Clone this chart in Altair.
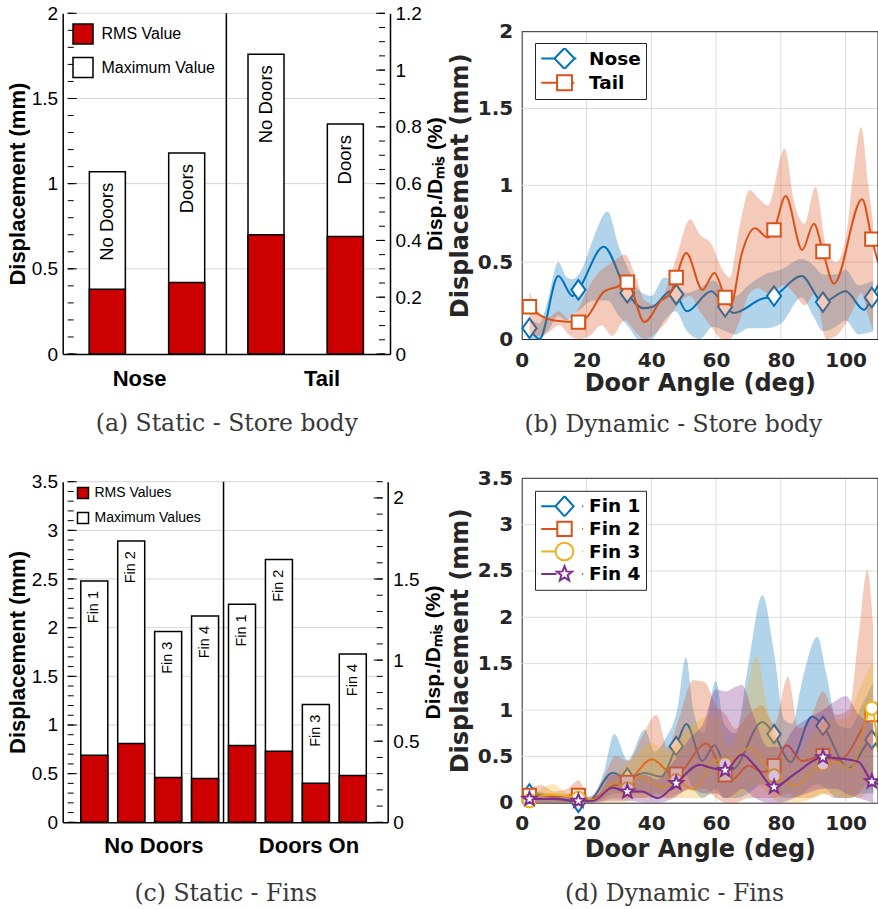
import math
import altair as alt
import pandas as pd

W, H = 878, 909
SANS = "Liberation Sans"
DV = "DejaVu Sans"
SERIF = "DejaVu Serif"
CAPC = "#383838"
AXC = "#262626"
GRID_A = "#d6d6d6"
GRID_B = "#dcdcdc"
RED = "#cc0000"
BLUE, ORANGE, YELLOW, PURPLE = "#0072BD", "#D95319", "#EDB120", "#7E2F8E"

# ---------------- (a) Static - Store body ----------------
A_GROUPS = ["Nose", "Tail"]
A_GROUP_POS = [1.4, 3.7]
A_CASES = ["No Doors", "Doors", "No Doors", "Doors"]
A_RMS = [0.38, 0.42, 0.70, 0.69]
A_MAX = [1.07, 1.18, 1.76, 1.35]
A_LEGEND = ["RMS Value", "Maximum Value"]
A_YTICKS = [0, 0.5, 1, 1.5, 2]
A_RTICKS = [0, 0.2, 0.4, 0.6, 0.8, 1, 1.2]

# ---------------- (c) Static - Fins ----------------
C_GROUPS = ["No Doors", "Doors On"]
C_GROUP_POS = [2.6, 6.8]
C_CASES = ["Fin 1", "Fin 2", "Fin 3", "Fin 4", "Fin 1", "Fin 2", "Fin 3", "Fin 4"]
C_RMS = [0.69, 0.81, 0.46, 0.45, 0.79, 0.73, 0.40, 0.48]
C_MAX = [2.48, 2.89, 1.96, 2.12, 2.24, 2.70, 1.21, 1.73]
C_LEGEND = ["RMS Values", "Maximum Values"]
C_YTICKS = [0, 0.5, 1, 1.5, 2, 2.5, 3, 3.5]
C_RTICKS = [0, 0.5, 1, 1.5, 2]

# ---------------- (b) Dynamic - Store body ----------------
DYN_XTICKS = [0, 20, 40, 60, 80, 100]
MARK_X = [2.4, 17.5, 32.6, 47.7, 62.8, 77.9, 93.0, 108.1]

NOSE_LINE_X = [2.4, 5.5, 11.3, 15.7, 17.5, 25.3, 32.6, 37.5, 40.5, 46.0, 47.7, 51.0, 58.5, 62.8, 65.5,
               74.0, 77.9, 86.4, 93.0, 100.0, 105.7, 108.1, 110.0]
NOSE_LINE_Y = [0.07, 0.0, 0.41, 0.28, 0.32, 0.60, 0.30, 0.20, 0.21, 0.31, 0.29, 0.18, 0.31, 0.21, 0.17,
               0.26, 0.28, 0.41, 0.24, 0.31, 0.19, 0.27, 0.35]
NOSE_MARK_Y = [0.07, 0.32, 0.30, 0.29, 0.21, 0.28, 0.24, 0.27]
NOSE_BAND_X = [2.4, 5.5, 8, 11.3, 14, 15.7, 18.5, 22, 26.5, 30, 33, 36, 40, 44, 47.5, 51, 55, 59, 63, 66,
               70, 75, 80, 86.4, 90, 93, 97, 100, 104, 108.5]
NOSE_BAND_LO = [0.0, 0.0, 0.05, 0.15, 0.12, 0.15, 0.20, 0.25, 0.25, 0.15, 0.08, 0.0, 0.0, 0.12, 0.18, 0.05,
                0.0, 0.08, 0.05, 0.03, 0.07, 0.07, 0.10, 0.27, 0.15, 0.05, 0.08, 0.12, 0.03, 0.05]
NOSE_BAND_HI = [0.14, 0.10, 0.25, 0.50, 0.40, 0.39, 0.45, 0.65, 0.83, 0.60, 0.45, 0.32, 0.28, 0.40, 0.36,
                0.30, 0.33, 0.38, 0.30, 0.28, 0.35, 0.42, 0.45, 0.52, 0.48, 0.42, 0.42, 0.45, 0.35, 0.38]

TAIL_LINE_X = [2.4, 6.0, 10.0, 17.5, 20.0, 25.5, 29.5, 32.6, 37.9, 43.0, 46.0, 47.7, 50.8, 55.8, 59.5, 62.8,
               64.5, 68.0, 72.0, 76.0, 77.9, 81.5, 86.6, 90.2, 93.0, 96.4, 105.1, 108.1, 110.0]
TAIL_LINE_Y = [0.21, 0.15, 0.12, 0.11, 0.14, 0.31, 0.34, 0.37, 0.11, 0.25, 0.30, 0.40, 0.56, 0.32, 0.43, 0.27,
               0.22, 0.56, 0.72, 0.66, 0.71, 0.93, 0.58, 0.75, 0.57, 0.36, 0.91, 0.65, 0.50]
TAIL_MARK_Y = [0.21, 0.11, 0.37, 0.40, 0.27, 0.71, 0.57, 0.65]
TAIL_BAND_X = [2.4, 5, 8, 11.5, 15, 17.5, 21, 24.6, 28, 31.8, 35, 38, 42, 45, 48, 52, 55, 58.5, 62, 64.2,
               67, 70.4, 73, 76, 81.2, 84, 87.3, 90.7, 94, 97, 100, 102.5, 104.8, 107, 108.5]
TAIL_BAND_LO = [0.03, 0.02, 0.04, 0.09, 0.02, 0.0, 0.02, 0.09, 0.02, 0.12, 0.05, 0.0, 0.05, 0.12, 0.22, 0.28,
                0.18, 0.08, 0.0, 0.0, 0.10, 0.30, 0.33, 0.30, 0.35, 0.30, 0.22, 0.30, 0.0, 0.02, 0.10, 0.20,
                0.30, 0.15, 0.05]
TAIL_BAND_HI = [0.31, 0.18, 0.14, 0.18, 0.12, 0.20, 0.35, 0.45, 0.50, 0.55, 0.42, 0.25, 0.22, 0.35, 0.55, 0.78,
                0.68, 0.62, 0.45, 0.40, 0.70, 0.97, 0.92, 0.87, 1.24, 0.90, 0.75, 0.99, 0.60, 0.50, 0.65, 1.10,
                1.38, 1.00, 0.75]

# ---------------- (d) Dynamic - Fins ----------------
F1_LINE_X = [2.4, 10, 17.5, 21, 28, 32.6, 38, 43, 47.7, 50.8, 55.8, 59.5, 62.8, 65, 74.3, 77.9, 83, 89.7,
             93.0, 101, 108.1, 110]
F1_LINE_Y = [0.10, 0.06, 0.0, 0.02, 0.32, 0.27, 0.32, 0.28, 0.61, 0.85, 0.45, 0.62, 0.40, 0.36, 0.87, 0.74,
             0.44, 0.93, 0.83, 0.37, 0.68, 0.60]
F1_MARK_Y = [0.10, 0.0, 0.27, 0.61, 0.40, 0.74, 0.83, 0.68]
F1_BAND_X = [2.4, 8, 17.5, 22, 25.5, 28.6, 32.7, 38, 41, 44.5, 48, 50.7, 53, 56, 59.9, 62.5, 66, 70, 74.3,
             78, 81, 83.5, 86.5, 91.3, 94, 97.5, 101, 105, 108.5]
F1_BAND_LO = [0.0, 0.0, 0.0, 0.0, 0.05, 0.10, 0.10, 0.10, 0.05, 0.10, 0.20, 0.30, 0.15, 0.05, 0.15, 0.05,
              0.05, 0.10, 0.20, 0.15, 0.05, 0.05, 0.10, 0.20, 0.15, 0.05, 0.05, 0.10, 0.10]
F1_BAND_HI = [0.14, 0.10, 0.05, 0.08, 0.35, 0.74, 0.46, 0.79, 0.55, 0.70, 1.00, 1.57, 1.00, 0.75, 1.31, 0.85,
              0.75, 1.50, 2.24, 1.60, 0.90, 0.85, 1.30, 1.79, 1.40, 0.85, 0.80, 1.05, 1.30]

F2_LINE_X = [2.4, 10, 17.5, 21, 28, 32.6, 40.2, 46, 47.7, 57, 61, 62.8, 64.5, 70, 74.5, 77.9, 81.8, 86.6,
             93.0, 98, 108.1, 110]
F2_LINE_Y = [0.08, 0.07, 0.08, 0.03, 0.18, 0.22, 0.47, 0.32, 0.31, 0.64, 0.40, 0.30, 0.24, 0.40, 0.33, 0.40,
             0.62, 0.45, 0.51, 0.46, 0.95, 1.00]
F2_MARK_Y = [0.08, 0.08, 0.22, 0.31, 0.30, 0.40, 0.51, 0.95]
F2_BAND_X = [2.4, 6, 10, 14, 17.5, 21, 25, 29, 33, 37, 41.6, 45, 48.5, 52.9, 56.5, 60, 63, 66, 70, 74, 78,
             82.2, 85.5, 89, 93, 97, 101, 104, 106.7, 108.5]
F2_BAND_LO = [0.0, 0.0, 0.0, 0.0, 0.0, 0.0, 0.02, 0.05, 0.05, 0.05, 0.10, 0.05, 0.10, 0.15, 0.15, 0.05, 0.0,
              0.0, 0.05, 0.05, 0.05, 0.10, 0.05, 0.05, 0.10, 0.05, 0.05, 0.10, 0.20, 0.10]
F2_BAND_HI = [0.15, 0.19, 0.12, 0.15, 0.24, 0.06, 0.25, 0.50, 0.45, 0.70, 0.95, 0.60, 0.90, 1.32, 1.30, 1.05,
              0.95, 0.80, 0.95, 1.05, 0.85, 1.36, 0.80, 0.90, 1.20, 0.95, 1.00, 1.80, 2.51, 1.90]

F3_LINE_X = [2.4, 9, 17.5, 22.4, 28.6, 32.6, 36, 43.5, 47.7, 52.9, 59.9, 62.8, 70.2, 77.9, 84.6, 93.0, 97.5,
             101.5, 108.1, 110]
F3_LINE_Y = [0.02, 0.09, 0.05, 0.03, 0.22, 0.15, 0.28, 0.17, 0.24, 0.14, 0.46, 0.42, 0.59, 0.29, 0.19, 0.42,
             0.43, 0.36, 1.02, 0.55]
F3_MARK_Y = [0.02, 0.05, 0.15, 0.24, 0.42, 0.29, 0.42, 1.02]
F3_BAND_X = [2.4, 6, 9.7, 14, 17.5, 22, 27, 31, 35, 40, 45, 50, 55, 60, 64, 68, 72.5, 76, 80, 85, 90, 95,
             100, 104, 108.5]
F3_BAND_LO = [0.0, 0.0, 0.0, 0.0, 0.0, 0.0, 0.0, 0.0, 0.05, 0.05, 0.05, 0.05, 0.05, 0.10, 0.05, 0.10, 0.20,
              0.10, 0.0, 0.0, 0.05, 0.10, 0.05, 0.05, 0.20]
F3_BAND_HI = [0.06, 0.15, 0.20, 0.10, 0.06, 0.04, 0.25, 0.35, 0.50, 0.65, 0.55, 0.75, 0.90, 0.95, 0.60, 0.95,
              1.58, 1.00, 0.60, 0.50, 0.75, 0.90, 0.90, 1.20, 1.55]

F4_LINE_X = [2.4, 10, 17.5, 22, 28, 32.6, 37, 42, 47.7, 55, 58, 62.8, 68, 72.2, 77.9, 84.6, 93.0, 97.5, 104,
             108.1, 110]
F4_LINE_Y = [0.04, 0.04, 0.02, 0.02, 0.16, 0.12, 0.12, 0.05, 0.21, 0.41, 0.38, 0.35, 0.52, 0.39, 0.17, 0.32,
             0.49, 0.48, 0.44, 0.23, 0.20]
F4_MARK_Y = [0.04, 0.02, 0.12, 0.21, 0.35, 0.17, 0.49, 0.23]
F4_BAND_X = [2.4, 10, 17.5, 22, 28, 33, 38, 42, 47, 52, 56, 60, 63, 66, 68, 72, 76, 80, 84, 88, 93, 97, 100,
             104, 108.5]
F4_BAND_LO = [0.0, 0.0, 0.0, 0.0, 0.02, 0.02, 0.0, 0.0, 0.05, 0.15, 0.10, 0.10, 0.05, 0.10, 0.15, 0.05, 0.0,
              0.0, 0.05, 0.10, 0.15, 0.15, 0.10, 0.05, 0.0]
F4_BAND_HI = [0.07, 0.07, 0.05, 0.03, 0.30, 0.30, 0.30, 0.25, 0.45, 0.70, 0.85, 1.22, 1.20, 1.25, 1.27, 0.90,
              0.60, 0.60, 0.80, 0.90, 1.00, 1.10, 1.15, 0.95, 0.85]


# ---------------- marker shapes ----------------
def star_pts(r, cx=0.0, ratio=0.42):
    pts = []
    for k in range(10):
        a = -math.pi / 2 + k * math.pi / 5
        rr = r if k % 2 == 0 else r * ratio
        pts.append(f"{cx + rr * math.cos(a):.3f},{rr * math.sin(a):.3f}")
    return "M" + "L".join(pts) + "Z"


DIAMOND = "M0,-1L0.72,0L0,1L-0.72,0Z"
STAR = star_pts(1.0)


def lg_diamond(hw, hh, stub=0.0, dot=False):
    p = f"M-1,0H{-hw}M0,{-hh}L{hw},0L0,{hh}L{-hw},0Z"
    if stub:
        p += f"M{hw},0H{hw + stub}"
    if dot:
        p += "M0.76,0H0.8"
    return p


def lg_square(h, stub=0.0, dot=False):
    p = f"M-1,0H{-h}M{-h},{-h}H{h}V{h}H{-h}Z"
    if stub:
        p += f"M{h},0H{h + stub}"
    if dot:
        p += "M0.76,0H0.8"
    return p


def lg_circle(r, dot=False):
    p = f"M-1,0H{-r}M{r},0A{r},{r} 0 1,1 {-r},0A{r},{r} 0 1,1 {r},0Z"
    if dot:
        p += "M0.76,0H0.8"
    return p


def lg_star(r, dot=False):
    p = f"M-1,0H{-r}" + star_pts(r)
    if dot:
        p += "M0.76,0H0.8"
    return p


# ---------------- static (bar) panels ----------------
def static_panel(P):
    n = len(P["cases"])
    df = pd.DataFrame({"pos": list(range(1, n + 1)), "case": P["cases"], "rms": P["rms"], "mx": P["max"]})
    x0, x1 = P["xdom"]
    y0, y1 = P["ydom"]
    sx = alt.Scale(domain=P["xdom"], range=P["xr"], nice=False, zero=False)
    sy = alt.Scale(domain=P["ydom"], range=P["yr"], nice=False, zero=False)
    sr = alt.Scale(domain=P["rdom"], range=P["yr"], nice=False, zero=False)
    g0, g1 = P["groups"]
    xaxis = alt.Axis(orient="bottom", offset=P["yr"][0] - H, values=P["group_pos"],
                     labelExpr=f"datum.value < {P['divider']} ? '{g0}' : '{g1}'",
                     tickSize=0, labelPadding=P["xlab_pad"], labelBaseline="alphabetic",
                     labelFont=SANS, labelFontSize=22, labelFontWeight="bold", labelColor="black",
                     labelFlush=False, labelOverlap=False, domainColor="black", domainWidth=1.5,
                     grid=False, title=P["caption"], titleFont=SERIF, titleFontSize=23.5,
                     titleFontWeight="normal", titleColor=CAPC, titleY=P["cap_y"],
                     titleBaseline="alphabetic")
    yaxis = alt.Axis(orient="left", offset=-P["xr"][0], values=P["yticks"], format="~g", tickSize=0,
                     labelPadding=5, labelFont=SANS, labelFontSize=19, labelColor="black",
                     labelFlush=False, labelOverlap=False, domainColor="black", domainWidth=1.5,
                     grid=False, title="Displacement (mm)", titleFont=SANS, titleFontSize=22,
                     titleFontWeight="bold", titleColor="black", titlePadding=2)
    raxis = alt.Axis(orient="right", offset=P["xr"][1] - W, values=P["rticks"], format="~g", tickSize=0,
                     labelPadding=5, labelFont=SANS, labelFontSize=19, labelColor="black",
                     labelFlush=False, labelOverlap=False, domainColor="black", domainWidth=1.5,
                     grid=False, title="Disp./D\u2098\u1d62\u209b (%)", titleFont=SANS, titleFontSize=21,
                     titleFontWeight="bold", titleColor="black", titleAngle=270, titleBaseline="top",
                     titlePadding=3)
    fscale = alt.Scale(domain=P["legend"], range=[RED, "#ffffff"])
    leg = alt.Legend(orient="none", legendX=P["leg_x"], legendY=P["leg_y"], title=None,
                     symbolType="square", symbolSize=P["leg_sym"] ** 2, symbolStrokeColor="black",
                     symbolStrokeWidth=1.5, symbolOpacity=1, labelFont=SANS, labelFontSize=P["leg_font"],
                     labelColor="black", labelOffset=P["leg_off"], rowPadding=P["leg_row"], padding=0)

    def X(field=None, datum=None):
        if datum is not None:
            return alt.X(datum=datum, scale=sx, axis=xaxis)
        return alt.X(field, scale=sx, axis=xaxis)

    def Y(field=None, datum=None):
        if datum is not None:
            return alt.Y(datum=datum, scale=sy, axis=yaxis)
        return alt.Y(field, scale=sy, axis=yaxis)

    def R(field):
        return alt.Y(field, scale=sr, axis=raxis)

    grid = alt.Chart(pd.DataFrame({"v": P["yticks"][1:]})).mark_rule(color=GRID_A, strokeWidth=1).encode(
        y=Y("v:Q"), x=X(datum=x0), x2=alt.datum(x1))
    minor_l = alt.Chart(pd.DataFrame({"v": P["yminor"]})).mark_rule(
        color="black", strokeWidth=1, x2Offset=6).encode(y=Y("v:Q"), x=X(datum=x0), x2=alt.datum(x0))
    major_l = alt.Chart(pd.DataFrame({"v": P["yticks"]})).mark_rule(
        color="black", strokeWidth=1, x2Offset=9).encode(y=Y("v:Q"), x=X(datum=x0), x2=alt.datum(x0))
    maxbars = alt.Chart(df).transform_calculate(kind=f"'{P['legend'][1]}'").mark_bar(
        size=P["bar_px"], stroke="black", strokeWidth=1.5).encode(
        x=X("pos:Q"), y=Y("mx:Q"), y2=alt.datum(0), fill=alt.Fill("kind:N", scale=fscale, legend=leg))
    rmsbars = alt.Chart(df).transform_calculate(kind=f"'{P['legend'][0]}'").mark_bar(
        size=P["bar_px"], stroke="black", strokeWidth=1.5).encode(
        x=X("pos:Q"), y=Y("rms:Q"), y2=alt.datum(0), fill=alt.Fill("kind:N", scale=fscale, legend=leg))
    texts = alt.Chart(df).mark_text(angle=270, align="right", baseline="middle", dx=P["txt_dx"],
                                    font=SANS, fontSize=P["txt_size"], color="black").encode(
        x=X("pos:Q"), y=Y("mx:Q"), text="case:N")
    divider = alt.Chart(pd.DataFrame({"d": [P["divider"]]})).mark_rule(color="black", strokeWidth=1.5).encode(
        x=X("d:Q"), y=Y(datum=y0), y2=alt.datum(y1))
    left = alt.layer(grid, minor_l, major_l, maxbars, rmsbars, texts, divider)

    minor_r = alt.Chart(pd.DataFrame({"v": P["rminor"]})).mark_rule(
        color="black", strokeWidth=1, x2Offset=-6).encode(y=R("v:Q"), x=X(datum=x1), x2=alt.datum(x1))
    major_r = alt.Chart(pd.DataFrame({"v": P["rticks"]})).mark_rule(
        color="black", strokeWidth=1, x2Offset=-9).encode(y=R("v:Q"), x=X(datum=x1), x2=alt.datum(x1))
    right = alt.layer(minor_r, major_r)
    return alt.layer(left, right).resolve_scale(y="independent")


# ---------------- dynamic panels ----------------
def dynamic_panel(P):
    xr = [521.7, 878.0]
    xdom = [0, 110]
    sx = alt.Scale(domain=xdom, range=xr, nice=False, zero=False)
    sy = alt.Scale(domain=P["ydom"], range=P["yr"], nice=False, zero=False)
    y0, y1 = P["ydom"]
    off_b = P["yr"][0] - H
    xaxis = alt.Axis(orient="bottom", offset=off_b, values=DYN_XTICKS, format="d", tickSize=0,
                     labelPadding=27, labelBaseline="alphabetic", labelFont=DV, labelFontWeight="bold",
                     labelFontSize=20, labelColor=AXC, labelFlush=False, labelOverlap=False,
                     domainColor=AXC, domainWidth=1, grid=False, title="Door Angle (deg)", titleFont=DV,
                     titleFontWeight="bold", titleFontSize=24, titleColor=AXC, titleY=P["xt_y"],
                     titleBaseline="alphabetic")
    yaxis = alt.Axis(orient="left", offset=-xr[0], values=P["yticks"], format="~g", tickSize=0,
                     labelPadding=9, labelFont=DV, labelFontWeight="bold", labelFontSize=20, labelColor=AXC,
                     labelFlush=False, labelOverlap=False, domainColor=AXC, domainWidth=1, grid=False,
                     title="Displacement (mm)", titleFont=DV, titleFontWeight="bold", titleFontSize=24,
                     titleColor=AXC, titlePadding=5)

    def X(field=None, datum=None):
        if datum is not None:
            return alt.X(datum=datum, scale=sx, axis=xaxis)
        return alt.X(field, scale=sx, axis=xaxis)

    def Y(field=None, datum=None):
        if datum is not None:
            return alt.Y(datum=datum, scale=sy, axis=yaxis)
        return alt.Y(field, scale=sy, axis=yaxis)

    gv = alt.Chart(pd.DataFrame({"v": DYN_XTICKS[1:]})).mark_rule(color=GRID_B, strokeWidth=1).encode(
        x=X("v:Q"), y=Y(datum=y0), y2=alt.datum(y1))
    gh = alt.Chart(pd.DataFrame({"v": P["yticks"][1:-1]})).mark_rule(color=GRID_B, strokeWidth=1).encode(
        y=Y("v:Q"), x=X(datum=xdom[0]), x2=alt.datum(xdom[1]))
    layers = [gv, gh]
    for s in P["series"]:
        band = pd.DataFrame({"x": s["band_x"], "lo": s["lo"], "hi": s["hi"]})
        line = pd.DataFrame({"x": s["line_x"], "y": s["line_y"]})
        marks = pd.DataFrame({"x": MARK_X, "y": s["mark_y"]})
        layers.append(alt.Chart(band).mark_area(color=s["color"], fillOpacity=0.3, interpolate="monotone").encode(
            x=X("x:Q"), y=Y("lo:Q"), y2="hi:Q"))
        layers.append(alt.Chart(line).mark_line(color=s["color"], strokeWidth=2, interpolate="monotone").encode(
            x=X("x:Q"), y=Y("y:Q")))
        layers.append(alt.Chart(marks).mark_point(shape=s["shape"], size=s["size"], filled=True, fill="white",
                                                  stroke=s["color"], strokeWidth=2, opacity=1).encode(
            x=X("x:Q"), y=Y("y:Q")))
    box = pd.DataFrame({"x0": [xdom[0]], "x1": [xdom[1]], "y0": [y0], "y1": [y1]})
    layers.append(alt.Chart(box).mark_rule(color=AXC, strokeWidth=1).encode(
        x=X("x0:Q"), x2="x1:Q", y=Y("y1:Q")))
    layers.append(alt.Chart(box).mark_rule(color=AXC, strokeWidth=1).encode(
        x=X("x1:Q"), y=Y("y0:Q"), y2="y1:Q"))

    names = [s["name"] for s in P["series"]]
    leg = alt.Legend(orient="none", legendX=P["leg_x"], legendY=P["leg_y"], title=None,
                     strokeColor=AXC, fillColor="white", padding=5, symbolSize=2172, symbolStrokeWidth=2,
                     symbolOpacity=1, symbolFillColor="white", clipHeight=21, labelFont=DV,
                     labelFontWeight="bold", labelFontSize=18.5, labelColor="black", labelOffset=0,
                     rowPadding=P["leg_row"])
    layers.append(alt.Chart(pd.DataFrame({"series": names})).mark_point(opacity=0, strokeWidth=2).encode(
        stroke=alt.Stroke("series:N", scale=alt.Scale(domain=names, range=[s["color"] for s in P["series"]]),
                          legend=leg),
        shape=alt.Shape("series:N", scale=alt.Scale(domain=names, range=[s["lg"] for s in P["series"]]),
                        legend=leg)))
    main = alt.layer(*layers)

    cap = alt.Chart(pd.DataFrame({"v": [xdom[0]]})).mark_rule(opacity=0).encode(
        x=alt.X("v:Q", scale=alt.Scale(domain=xdom, range=xr, nice=False, zero=False),
                axis=alt.Axis(orient="bottom", offset=off_b, domain=False, ticks=False, labels=False,
                              grid=False, title=P["caption"], titleX=P["cap_x"], titleY=P["cap_y"],
                              titleBaseline="alphabetic", titleFont=SERIF, titleFontSize=23.5,
                              titleFontWeight="normal", titleColor=CAPC)))
    return alt.layer(main, cap).resolve_scale(x="independent")


panel_a = static_panel(dict(
    cases=A_CASES, rms=A_RMS, max=A_MAX, groups=A_GROUPS, group_pos=A_GROUP_POS, divider=2.5,
    legend=A_LEGEND, xdom=[0.5, 4.5], xr=[62.7, 390.0], ydom=[0, 2], yr=[354.0, 13.3], rdom=[0, 1.2],
    yticks=A_YTICKS, rticks=A_RTICKS, yminor=[round(0.1 * i, 2) for i in range(21)],
    rminor=[round(0.05 * i, 2) for i in range(25)], bar_px=36, txt_size=18.5, txt_dx=-11,
    leg_x=72, leg_y=23, leg_sym=20, leg_font=16, leg_off=7.5, leg_row=7.5,
    caption="(a) Static - Store body", cap_y=76, xlab_pad=31))

panel_c = static_panel(dict(
    cases=C_CASES, rms=C_RMS, max=C_MAX, groups=C_GROUPS, group_pos=C_GROUP_POS, divider=4.5,
    legend=C_LEGEND, xdom=[0.28, 8.81], xr=[62.7, 387.7], ydom=[0, 3.5], yr=[822.3, 481.7], rdom=[0, 2.1],
    yticks=C_YTICKS, rticks=C_RTICKS, yminor=[round(0.1 * i, 2) for i in range(36)],
    rminor=[round(0.1 * i, 2) for i in range(22)], bar_px=27, txt_size=14.5, txt_dx=-10,
    leg_x=76, leg_y=486, leg_sym=11, leg_font=14, leg_off=4.5, leg_row=7,
    caption="(c) Static - Fins", cap_y=78, xlab_pad=30.5))

panel_b = dynamic_panel(dict(
    ydom=[0, 2], yr=[339.0, 31.7], yticks=[0, 0.5, 1, 1.5, 2], xt_y=51.7,
    caption="(b) Dynamic - Store body", cap_x=673, cap_y=92.7, leg_x=535, leg_y=43, leg_row=3.3,
    series=[
        dict(name="Nose", color=BLUE, shape=DIAMOND, size=380, band_x=NOSE_BAND_X, lo=NOSE_BAND_LO,
             hi=NOSE_BAND_HI, line_x=NOSE_LINE_X, line_y=NOSE_LINE_Y, mark_y=NOSE_MARK_Y,
             lg=lg_diamond(0.43, 0.45, stub=0.08)),
        dict(name="Tail", color=ORANGE, shape="square", size=180, band_x=TAIL_BAND_X, lo=TAIL_BAND_LO,
             hi=TAIL_BAND_HI, line_x=TAIL_LINE_X, line_y=TAIL_LINE_Y, mark_y=TAIL_MARK_Y,
             lg=lg_square(0.32, stub=0.1)),
    ]))

panel_d = dynamic_panel(dict(
    ydom=[0, 3.5], yr=[802.7, 478.3], yticks=[0, 0.5, 1, 1.5, 2, 2.5, 3, 3.5], xt_y=53.3,
    caption="(d) Dynamic - Fins", cap_x=674, cap_y=97.3, leg_x=535, leg_y=490.8, leg_row=1.6,
    series=[
        dict(name="Fin 1", color=BLUE, shape=DIAMOND, size=340, band_x=F1_BAND_X, lo=F1_BAND_LO,
             hi=F1_BAND_HI, line_x=F1_LINE_X, line_y=F1_LINE_Y, mark_y=F1_MARK_Y,
             lg=lg_diamond(0.39, 0.43, dot=True)),
        dict(name="Fin 2", color=ORANGE, shape="square", size=170, band_x=F2_BAND_X, lo=F2_BAND_LO,
             hi=F2_BAND_HI, line_x=F2_LINE_X, line_y=F2_LINE_Y, mark_y=F2_MARK_Y,
             lg=lg_square(0.31, dot=True)),
        dict(name="Fin 3", color=YELLOW, shape="circle", size=170, band_x=F3_BAND_X, lo=F3_BAND_LO,
             hi=F3_BAND_HI, line_x=F3_LINE_X, line_y=F3_LINE_Y, mark_y=F3_MARK_Y,
             lg=lg_circle(0.38, dot=True)),
        dict(name="Fin 4", color=PURPLE, shape=STAR, size=200, band_x=F4_BAND_X, lo=F4_BAND_LO,
             hi=F4_BAND_HI, line_x=F4_LINE_X, line_y=F4_LINE_Y, mark_y=F4_MARK_Y,
             lg=lg_star(0.34, dot=True)),
    ]))

chart = alt.layer(panel_a, panel_b, panel_c, panel_d).resolve_scale(
    x="independent", y="independent", fill="independent", stroke="independent", shape="independent"
).properties(
    width=W, height=H, padding=0, autosize=alt.AutoSizeParams(type="none"), background="white"
).configure_view(strokeWidth=0)

chart.save("out.html", embed_options={"renderer": "svg", "actions": False})
